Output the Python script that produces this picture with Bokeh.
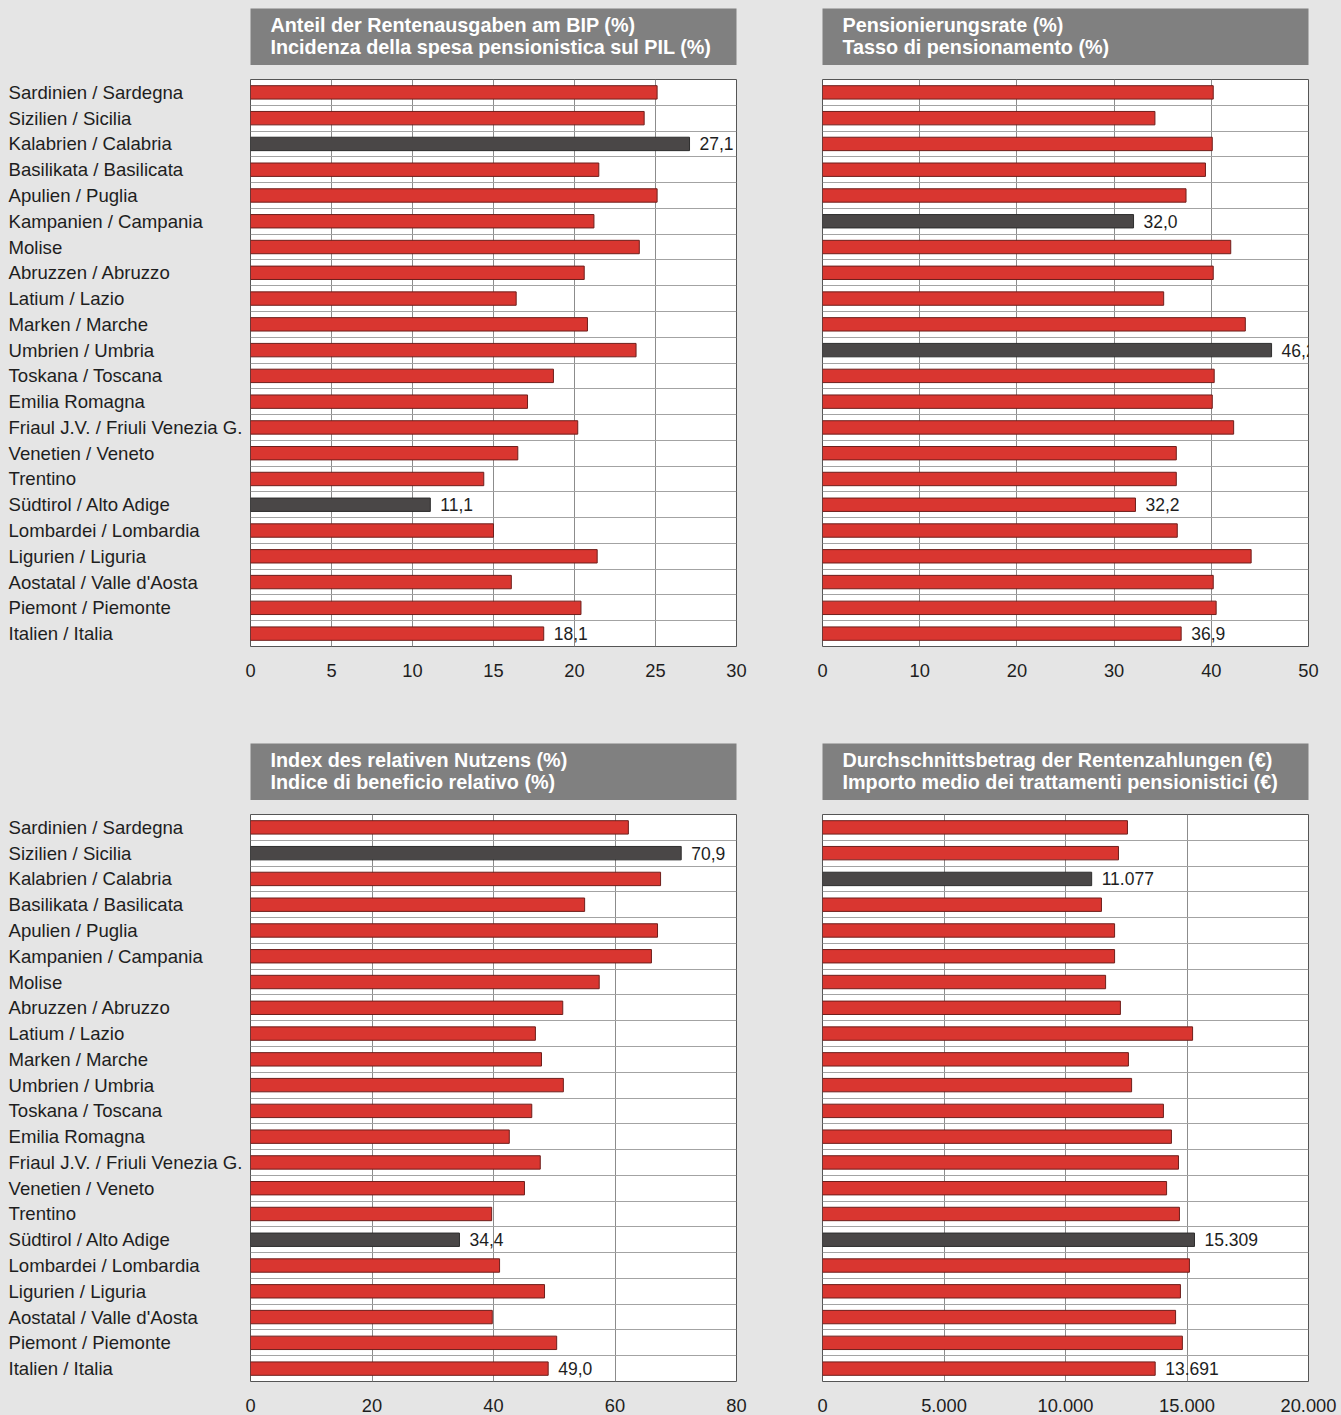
from bokeh.plotting import figure
from bokeh.models import ColumnDataSource, FactorRange, Range1d, FixedTicker, Label
from bokeh.layouts import row, column
from bokeh.core.properties import value
from bokeh.embed import file_html
from bokeh.resources import INLINE

# ---------------- data ----------------
regions = [
    "Sardinien / Sardegna", "Sizilien / Sicilia", "Kalabrien / Calabria",
    "Basilikata / Basilicata", "Apulien / Puglia", "Kampanien / Campania",
    "Molise", "Abruzzen / Abruzzo", "Latium / Lazio", "Marken / Marche",
    "Umbrien / Umbria", "Toskana / Toscana", "Emilia Romagna",
    "Friaul J.V. / Friuli Venezia G.", "Venetien / Veneto", "Trentino",
    "Südtirol / Alto Adige", "Lombardei / Lombardia", "Ligurien / Liguria",
    "Aostatal / Valle d'Aosta", "Piemont / Piemonte", "Italien / Italia",
]

anteil_bip = [25.1, 24.3, 27.1, 21.5, 25.1, 21.2, 24.0, 20.6, 16.4, 20.8, 23.8,
              18.7, 17.1, 20.2, 16.5, 14.4, 11.1, 15.0, 21.4, 16.1, 20.4, 18.1]
pension_rate = [40.2, 34.2, 40.1, 39.4, 37.4, 32.0, 42.0, 40.2, 35.1, 43.5, 46.2,
                40.3, 40.1, 42.3, 36.4, 36.4, 32.2, 36.5, 44.1, 40.2, 40.5, 36.9]
nutzen_index = [62.2, 70.9, 67.5, 55.0, 67.0, 66.0, 57.4, 51.4, 46.9, 47.9, 51.5,
                46.3, 42.6, 47.7, 45.1, 39.7, 34.4, 41.0, 48.4, 39.8, 50.4, 49.0]
avg_pension = [12550, 12180, 11077, 11480, 12020, 12020, 11650, 12260, 15230, 12590,
               12720, 14030, 14360, 14650, 14160, 14690, 15309, 15100, 14730, 14530,
               14810, 13691]

title_1 = "Anteil der Rentenausgaben am BIP (%)\nIncidenza della spesa pensionistica sul PIL (%)"
title_2 = "Pensionierungsrate (%)\nTasso di pensionamento (%)"
title_3 = "Index des relativen Nutzens (%)\nIndice di beneficio relativo (%)"
title_4 = "Durchschnittsbetrag der Rentenzahlungen (€)\nImporto medio dei trattamenti pensionistici (€)"

ticks_1 = [0, 5, 10, 15, 20, 25, 30]
tick_labels_1 = ["0", "5", "10", "15", "20", "25", "30"]
ticks_2 = [0, 10, 20, 30, 40, 50]
tick_labels_2 = ["0", "10", "20", "30", "40", "50"]
ticks_3 = [0, 20, 40, 60, 80]
tick_labels_3 = ["0", "20", "40", "60", "80"]
ticks_4 = [0, 5000, 10000, 15000, 20000]
tick_labels_4 = ["0", "5.000", "10.000", "15.000", "20.000"]

dark_1 = ["Kalabrien / Calabria", "Südtirol / Alto Adige"]
dark_2 = ["Kampanien / Campania", "Umbrien / Umbria"]
dark_3 = ["Sizilien / Sicilia", "Südtirol / Alto Adige"]
dark_4 = ["Kalabrien / Calabria", "Südtirol / Alto Adige"]
always_labeled = ["Südtirol / Alto Adige", "Italien / Italia"]

# ---------------- style ----------------
BG = "#e5e5e5"
TITLE_BG = "#808080"
RED = "#d93630"
RED_LINE = "#6e1f1c"
DARK = "#4a4747"
DARK_LINE = "#2e2e2e"
TXT = "#1e1e1e"
FONT = "Liberation Sans"

PAD = 8          # outer page offset
FRAME_W = 486
FRAME_H = 567
TITLE_H = 57
GAP = 14
B_TOP_ROW = 97
B_BOT_ROW = 33
LABEL_W = 236

yr = FactorRange(factors=list(reversed(regions)), range_padding=0)
boundaries = list(range(1, len(regions)))


def fmt_pct(v):
    return f"{v:.1f}".replace(".", ",")


def fmt_eur(v):
    return f"{v:,.0f}".replace(",", ".")


def make_title(text, bl, br, top):
    t = figure(width=bl + FRAME_W + br, height=top + TITLE_H,
               x_range=Range1d(0, FRAME_W), y_range=Range1d(0, TITLE_H),
               x_axis_location=None, y_axis_location=None,
               min_border_left=bl, min_border_right=br,
               min_border_top=top, min_border_bottom=0,
               background_fill_color=TITLE_BG, border_fill_color=BG,
               outline_line_color=None,
               output_backend="svg", toolbar_location=None)
    t.grid.visible = False
    t.text(x=[20], y=[TITLE_H / 2 + 1], text=[text], text_color="white",
           text_font=value(FONT), text_font_style="bold",
           text_font_size="19.8px", text_baseline="middle", text_align="left",
           text_line_height=1.0)
    return t


def make_chart(vals, ticks, tick_labels, dark, fmt, bl, br, bb):
    p = figure(width=bl + FRAME_W + br, height=GAP + FRAME_H + bb,
               x_range=Range1d(ticks[0], ticks[-1]), y_range=yr,
               y_axis_location=None,
               min_border_left=bl, min_border_right=br,
               min_border_top=GAP, min_border_bottom=bb,
               background_fill_color="white", border_fill_color=BG,
               outline_line_color="#555555", outline_line_width=1,
               output_backend="svg", toolbar_location=None)
    p.xgrid.ticker = FixedTicker(ticks=ticks)
    p.xgrid.grid_line_color = "#8c8c8c"
    p.xgrid.grid_line_width = 1
    p.ygrid.ticker = FixedTicker(ticks=boundaries)
    p.ygrid.grid_line_color = "#a3a3a3"
    p.ygrid.grid_line_width = 1.2

    fills = [DARK if r in dark else RED for r in regions]
    lines = [DARK_LINE if r in dark else RED_LINE for r in regions]
    src = ColumnDataSource(dict(region=regions, val=vals, fill=fills, line=lines))
    p.hbar(y="region", right="val", left=0, height=0.52, fill_color="fill",
           line_color="line", line_width=1, source=src)

    n = len(regions)
    for i, r in enumerate(regions):
        if r in dark or r in always_labeled:
            # synthetic categorical coordinate: centre of the factor's slot
            p.add_layout(Label(x=vals[i], y=(n - 1 - i) + 0.5, text=fmt(vals[i]),
                               x_offset=10, text_baseline="middle", text_align="left",
                               text_color=TXT, text_font=FONT,
                               text_font_size="17.5px"))

    ax = p.xaxis[0]
    ax.ticker = FixedTicker(ticks=ticks)
    ax.major_label_overrides = {t: l for t, l in zip(ticks, tick_labels)}
    ax.axis_line_color = None
    ax.major_tick_line_color = None
    ax.minor_tick_line_color = None
    ax.major_label_standoff = 11
    ax.major_label_text_font = FONT
    ax.major_label_text_font_size = "18.3px"
    ax.major_label_text_color = TXT
    return p


def make_labels(bb, top):
    lf = figure(width=PAD + LABEL_W, height=top + TITLE_H + GAP + FRAME_H + bb,
                x_range=Range1d(0, PAD + LABEL_W), y_range=yr,
                x_axis_location=None, y_axis_location=None,
                min_border_left=0, min_border_right=0,
                min_border_top=top + TITLE_H + GAP, min_border_bottom=bb,
                background_fill_color=BG, border_fill_color=BG,
                outline_line_color=None,
                output_backend="svg", toolbar_location=None)
    lf.grid.visible = False
    src = ColumnDataSource(dict(region=regions))
    lf.text(x=PAD, y="region", text="region", source=src, text_baseline="middle",
            text_align="left", text_color=TXT, text_font=value(FONT),
            text_font_size="18.6px")
    return lf


L_BL, L_BR = 6, 40
R_BL, R_BR = 46, 30

left_top = row(make_labels(B_TOP_ROW, PAD),
               column(make_title(title_1, L_BL, L_BR, PAD),
                      make_chart(anteil_bip, ticks_1, tick_labels_1, dark_1, fmt_pct,
                                 L_BL, L_BR, B_TOP_ROW)))
left_bot = row(make_labels(B_BOT_ROW, 0),
               column(make_title(title_3, L_BL, L_BR, 0),
                      make_chart(nutzen_index, ticks_3, tick_labels_3, dark_3, fmt_pct,
                                 L_BL, L_BR, B_BOT_ROW)))
right_top = column(make_title(title_2, R_BL, R_BR, PAD),
                   make_chart(pension_rate, ticks_2, tick_labels_2, dark_2, fmt_pct,
                              R_BL, R_BR, B_TOP_ROW))
right_bot = column(make_title(title_4, R_BL, R_BR, 0),
                   make_chart(avg_pension, ticks_4, tick_labels_4, dark_4, fmt_eur,
                              R_BL, R_BR, B_BOT_ROW))

p = row(column(left_top, left_bot), column(right_top, right_bot))

html = file_html(p, INLINE, title="Renten")
html = html.replace("</head>", "<style>html,body{background-color:%s;}</style></head>" % BG, 1)
open("out.html", "w").write(html)
